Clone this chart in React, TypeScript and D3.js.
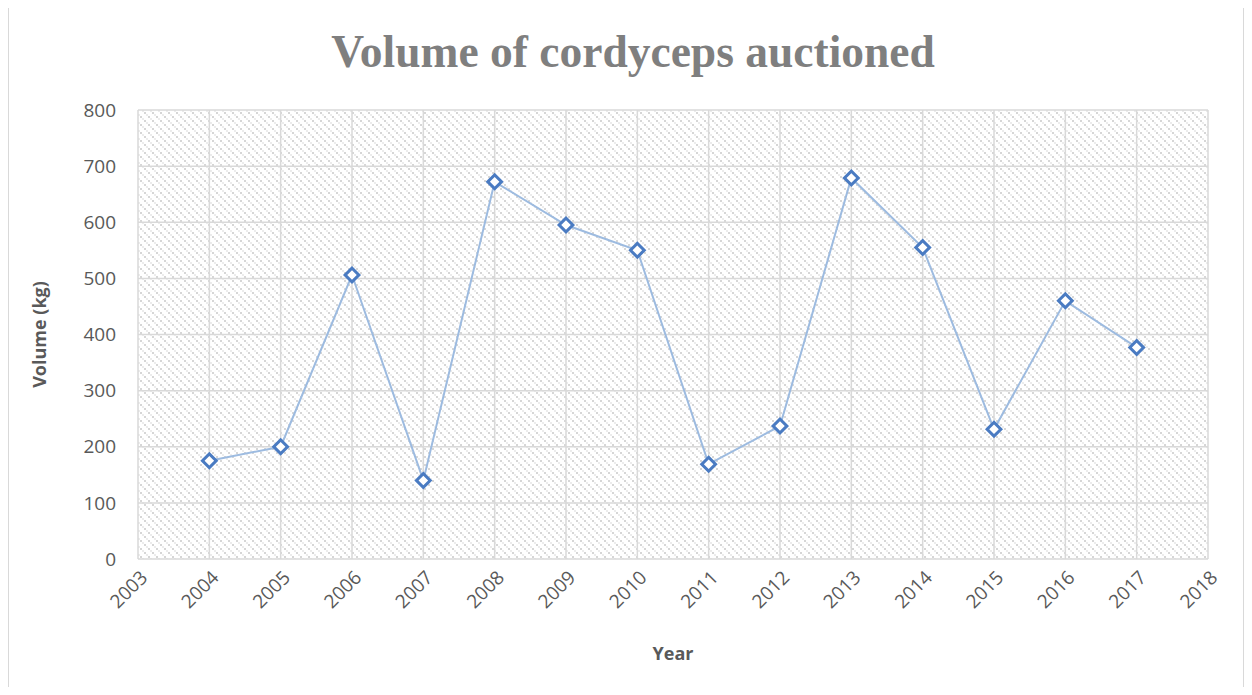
import React, { useEffect, useRef } from 'react';
import * as d3 from 'd3';

const years = [2004, 2005, 2006, 2007, 2008, 2009, 2010, 2011, 2012, 2013, 2014, 2015, 2016, 2017];
const volumes = [175, 200, 506, 140, 672, 595, 550, 169, 237, 679, 555, 231, 460, 377];
const xTicks = d3.range(2003, 2019);
const yTicks = [0, 100, 200, 300, 400, 500, 600, 700, 800];

const App: React.FC = () => {
  const svgRef = useRef<SVGSVGElement>(null);

  useEffect(() => {
    if (!svgRef.current) return;
    const svg = d3.select(svgRef.current);
    svg.selectAll('*').remove();

    const width = 1252;
    const height = 695;
    const margin = { top: 110, right: 44, bottom: 136, left: 138 };
    const font = "'Open Sans', 'Liberation Sans', sans-serif";

    // hatch fill of the plot area, Excel-style dotted diagonal
    const defs = svg.append('defs');
    const pat = defs
      .append('pattern')
      .attr('id', 'hatch')
      .attr('patternUnits', 'userSpaceOnUse')
      .attr('x', 0)
      .attr('y', 0)
      .attr('width', 8)
      .attr('height', 8);
    [0, 2, 4, 6].forEach((p) => {
      pat
        .append('rect')
        .attr('x', p)
        .attr('y', p)
        .attr('width', 2)
        .attr('height', 2)
        .attr('fill', p % 4 === 0 ? '#d6d6d6' : '#ececec');
    });

    // outer frame
    svg
      .append('rect')
      .attr('x', 8.5)
      .attr('y', 6.5)
      .attr('width', width - 17)
      .attr('height', height - 12)
      .attr('fill', '#fff')
      .attr('stroke', '#d9d9d9');

    const x = d3
      .scaleLinear()
      .domain([2003, 2018])
      .range([margin.left, width - margin.right]);
    const y = d3
      .scaleLinear()
      .domain([0, 800])
      .range([height - margin.bottom, margin.top]);

    const g = svg.append('g');

    g.append('rect')
      .attr('x', x(2003))
      .attr('y', y(800))
      .attr('width', x(2018) - x(2003))
      .attr('height', y(0) - y(800))
      .attr('fill', 'url(#hatch)');

    // gridlines
    g.append('g')
      .selectAll('line')
      .data(yTicks)
      .enter()
      .append('line')
      .attr('x1', x(2003))
      .attr('x2', x(2018))
      .attr('y1', (d) => y(d))
      .attr('y2', (d) => y(d))
      .attr('stroke', '#d9d9d9')
      .attr('stroke-width', 1.5);
    g.append('g')
      .selectAll('line')
      .data(xTicks)
      .enter()
      .append('line')
      .attr('x1', (d) => x(d))
      .attr('x2', (d) => x(d))
      .attr('y1', y(0))
      .attr('y2', y(800))
      .attr('stroke', '#d9d9d9')
      .attr('stroke-width', 1.5);

    // y tick labels
    g.append('g')
      .selectAll('text')
      .data(yTicks)
      .enter()
      .append('text')
      .attr('x', x(2003) - 22)
      .attr('y', (d) => y(d))
      .attr('dy', '0.35em')
      .attr('text-anchor', 'end')
      .attr('font-family', font)
      .attr('font-size', 19)
      .attr('fill', '#595959')
      .text((d) => d);

    // x tick labels
    g.append('g')
      .selectAll('text')
      .data(xTicks)
      .enter()
      .append('text')
      .attr('transform', (d) => `translate(${x(d) + 6},${y(0) + 15}) rotate(-45)`)
      .attr('text-anchor', 'end')
      .attr('dy', '0.35em')
      .attr('font-family', font)
      .attr('font-size', 19)
      .attr('fill', '#595959')
      .text((d) => d);

    // line
    const line = d3
      .line<number>()
      .x((_, i) => x(years[i]))
      .y((d) => y(d));
    g.append('path')
      .datum(volumes)
      .attr('d', line)
      .attr('fill', 'none')
      .attr('stroke', '#9dbbe0')
      .attr('stroke-width', 2);

    g.append('g')
      .selectAll('path')
      .data(volumes)
      .enter()
      .append('path')
      .attr('d', d3.symbol(d3.symbolSquare, 95)())
      .attr('transform', (d, i) => `translate(${x(years[i])},${y(d)}) rotate(45)`)
      .attr('fill', '#fff')
      .attr('stroke', '#4a7bc2')
      .attr('stroke-width', 3);

    // titles
    svg
      .append('text')
      .attr('x', 633)
      .attr('y', 67)
      .attr('text-anchor', 'middle')
      .attr('font-family', "'Liberation Serif', 'DejaVu Serif', serif")
      .attr('font-weight', 'bold')
      .attr('font-size', 45.5)
      .attr('fill', '#7f7f7f')
      .text('Volume of cordyceps auctioned');

    svg
      .append('text')
      .attr('x', (x(2003) + x(2018)) / 2)
      .attr('y', 660)
      .attr('text-anchor', 'middle')
      .attr('font-family', font)
      .attr('font-weight', 'bold')
      .attr('font-size', 18)
      .attr('fill', '#595959')
      .text('Year');

    svg
      .append('text')
      .attr('transform', `translate(40,${(y(0) + y(800)) / 2}) rotate(-90)`)
      .attr('text-anchor', 'middle')
      .attr('dy', '0.35em')
      .attr('font-family', font)
      .attr('font-weight', 'bold')
      .attr('font-size', 18)
      .attr('fill', '#595959')
      .text('Volume (kg)');
  }, []);

  return <svg ref={svgRef} width={1252} height={695} style={{ display: 'block', margin: -8 }} />;
};

export default App;
